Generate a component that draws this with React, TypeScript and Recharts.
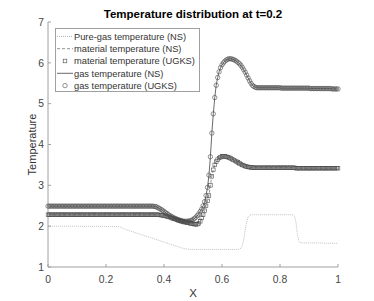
import { LineChart, Line, XAxis, YAxis, Legend } from "recharts";

// UGKS / NS solution on a uniform mesh over [0, 1], 201 points
const gasTemp = [
  2.49, 2.49, 2.49, 2.49, 2.49, 2.49, 2.49, 2.49, 2.49, 2.49,
  2.49, 2.49, 2.49, 2.49, 2.49, 2.49, 2.49, 2.49, 2.49, 2.49,
  2.49, 2.49, 2.49, 2.49, 2.49, 2.49, 2.49, 2.49, 2.49, 2.49,
  2.49, 2.49, 2.49, 2.49, 2.49, 2.49, 2.49, 2.49, 2.49, 2.49,
  2.49, 2.49, 2.49, 2.49, 2.49, 2.49, 2.49, 2.49, 2.49, 2.49,
  2.49, 2.49, 2.49, 2.49, 2.49, 2.49, 2.49, 2.49, 2.49, 2.49,
  2.49, 2.49, 2.49, 2.49, 2.49, 2.49, 2.49, 2.49, 2.49, 2.49,
  2.49, 2.49, 2.49, 2.485, 2.48, 2.47, 2.45, 2.43, 2.41, 2.385,
  2.36, 2.335, 2.31, 2.285, 2.26, 2.24, 2.22, 2.2, 2.185, 2.17,
  2.155, 2.145, 2.135, 2.125, 2.12, 2.12, 2.12, 2.125, 2.13, 2.145,
  2.16, 2.19, 2.22, 2.26, 2.3, 2.36, 2.42, 2.5, 2.6, 2.75,
  2.95, 3.25, 3.7, 4.28, 4.75, 5.15, 5.45, 5.64, 5.78, 5.88,
  5.95, 6.0, 6.04, 6.07, 6.09, 6.1, 6.1, 6.09, 6.08, 6.06,
  6.04, 6.01, 5.98, 5.94, 5.89, 5.83, 5.77, 5.7, 5.63, 5.56,
  5.5, 5.45, 5.42, 5.4, 5.39, 5.39, 5.39, 5.39, 5.39, 5.39,
  5.39, 5.39, 5.39, 5.39, 5.39, 5.39, 5.39, 5.39, 5.39, 5.39,
  5.39, 5.38, 5.38, 5.38, 5.38, 5.38, 5.38, 5.38, 5.38, 5.38,
  5.38, 5.38, 5.38, 5.38, 5.38, 5.38, 5.38, 5.38, 5.38, 5.38,
  5.38, 5.37, 5.37, 5.37, 5.37, 5.37, 5.37, 5.37, 5.37, 5.37,
  5.37, 5.37, 5.37, 5.37, 5.37, 5.37, 5.36, 5.36, 5.36, 5.36,
  5.36,
];

const materialTemp = [
  2.28, 2.28, 2.28, 2.28, 2.28, 2.28, 2.28, 2.28, 2.28, 2.28,
  2.28, 2.28, 2.28, 2.28, 2.28, 2.28, 2.28, 2.28, 2.28, 2.28,
  2.28, 2.28, 2.28, 2.28, 2.28, 2.28, 2.28, 2.28, 2.28, 2.28,
  2.28, 2.28, 2.28, 2.28, 2.28, 2.28, 2.28, 2.28, 2.28, 2.28,
  2.28, 2.28, 2.28, 2.28, 2.28, 2.28, 2.28, 2.28, 2.28, 2.28,
  2.28, 2.28, 2.28, 2.28, 2.28, 2.28, 2.28, 2.28, 2.28, 2.28,
  2.28, 2.28, 2.28, 2.28, 2.28, 2.28, 2.28, 2.28, 2.28, 2.28,
  2.28, 2.28, 2.28, 2.28, 2.28, 2.28, 2.28, 2.275, 2.27, 2.265,
  2.26, 2.25, 2.24, 2.23, 2.22, 2.205, 2.19, 2.18, 2.17, 2.155,
  2.14, 2.13, 2.12, 2.11, 2.1, 2.095, 2.09, 2.08, 2.07, 2.065,
  2.06, 2.05, 2.045, 2.05, 2.07, 2.12, 2.2, 2.28, 2.38, 2.5,
  2.62, 2.75, 3.0, 3.22, 3.38, 3.5, 3.58, 3.63, 3.67, 3.69,
  3.71, 3.71, 3.71, 3.7, 3.69, 3.68, 3.66, 3.64, 3.62, 3.6,
  3.58, 3.56, 3.54, 3.52, 3.5, 3.485, 3.47, 3.46, 3.45, 3.445,
  3.44, 3.435, 3.43, 3.43, 3.43, 3.43, 3.43, 3.43, 3.43, 3.43,
  3.43, 3.43, 3.43, 3.43, 3.43, 3.43, 3.43, 3.43, 3.43, 3.43,
  3.43, 3.43, 3.43, 3.43, 3.43, 3.43, 3.43, 3.43, 3.43, 3.43,
  3.43, 3.42, 3.42, 3.42, 3.42, 3.42, 3.42, 3.42, 3.42, 3.42,
  3.42, 3.42, 3.42, 3.42, 3.42, 3.42, 3.42, 3.42, 3.42, 3.42,
  3.42, 3.42, 3.42, 3.42, 3.42, 3.42, 3.42, 3.42, 3.42, 3.42,
  3.42,
];

const pureGasTemp = [
  2.0, 2.0, 2.0, 2.0, 2.0, 2.0, 2.0, 2.0, 2.0, 2.0,
  2.0, 2.0, 2.0, 2.0, 2.0, 2.0, 2.0, 2.0, 2.0, 2.0,
  2.0, 1.995, 1.995, 1.995, 1.995, 1.995, 1.995, 1.995, 1.995, 1.995,
  1.995, 1.995, 1.995, 1.995, 1.995, 1.995, 1.995, 1.995, 1.995, 1.995,
  1.995, 1.99, 1.99, 1.99, 1.99, 1.99, 1.99, 1.99, 1.99, 1.985,
  1.975, 1.96, 1.945, 1.93, 1.915, 1.9, 1.89, 1.88, 1.865, 1.855,
  1.845, 1.83, 1.82, 1.81, 1.795, 1.785, 1.775, 1.76, 1.75, 1.74,
  1.725, 1.715, 1.705, 1.69, 1.68, 1.67, 1.655, 1.645, 1.635, 1.62,
  1.61, 1.6, 1.585, 1.575, 1.565, 1.55, 1.54, 1.53, 1.515, 1.505,
  1.495, 1.48, 1.47, 1.46, 1.45, 1.445, 1.44, 1.435, 1.43, 1.43,
  1.43, 1.43, 1.43, 1.43, 1.43, 1.43, 1.43, 1.43, 1.43, 1.43,
  1.43, 1.43, 1.43, 1.43, 1.43, 1.43, 1.43, 1.43, 1.43, 1.43,
  1.43, 1.43, 1.43, 1.43, 1.43, 1.43, 1.43, 1.43, 1.43, 1.43,
  1.43, 1.43, 1.44, 1.46, 1.52, 1.68, 1.9, 2.1, 2.22, 2.26,
  2.28, 2.28, 2.28, 2.28, 2.28, 2.28, 2.28, 2.28, 2.28, 2.28,
  2.28, 2.28, 2.28, 2.28, 2.28, 2.28, 2.28, 2.28, 2.28, 2.28,
  2.28, 2.28, 2.28, 2.28, 2.28, 2.28, 2.28, 2.28, 2.28, 2.27,
  2.24, 2.1, 1.8, 1.63, 1.6, 1.59, 1.59, 1.59, 1.59, 1.59,
  1.59, 1.59, 1.59, 1.59, 1.59, 1.59, 1.59, 1.59, 1.59, 1.59,
  1.59, 1.58, 1.58, 1.58, 1.58, 1.58, 1.58, 1.58, 1.58, 1.58,
  1.58,
];

const xTicks = [0, 0.2, 0.4, 0.6, 0.8, 1];
const yTicks = [1, 2, 3, 4, 5, 6, 7];

const legendLabels = [
  "Pure-gas temperature (NS)",
  "material temperature (NS)",
  "material temperature (UGKS)",
  "gas temperature (NS)",
  "gas temperature (UGKS)",
];

// mesh points
const data = gasTemp.map((g, i) => ({
  x: i / (gasTemp.length - 1),
  gas: g,
  material: materialTemp[i],
  pure: pureGasTemp[i],
}));

const FONT = '"Liberation Sans", Arial, Helvetica, sans-serif';
const axisColor = "#a0a0a0";
const markColor = "#4a4a4a";

function XTick({ x, y, payload }: any) {
  return (
    <g>
      <line x1={x} x2={x} y1={y} y2={y - 3} stroke={axisColor} />
      <text x={x} y={y + 16} textAnchor="middle" fontSize={10.3} fill="#444" fontFamily={FONT}>
        {payload.value}
      </text>
    </g>
  );
}

function YTick({ x, y, payload }: any) {
  return (
    <g>
      <line x1={x} x2={x + 3} y1={y} y2={y} stroke={axisColor} />
      <text x={x - 4} y={y + 3.7} textAnchor="end" fontSize={10.3} fill="#444" fontFamily={FONT}>
        {payload.value}
      </text>
    </g>
  );
}

function CircleDot(props: any) {
  const { cx, cy, index } = props;
  return <circle key={`c-${index}`} cx={cx} cy={cy} r={2.2} fill="none" stroke={markColor} strokeWidth={0.6} />;
}

function SquareDot(props: any) {
  const { cx, cy, index } = props;
  return (
    <rect key={`s-${index}`} x={cx - 1.8} y={cy - 1.8} width={3.6} height={3.6} fill="none" stroke={markColor} strokeWidth={0.6} />
  );
}

function LegendBox() {
  const rows = [8.4, 20.7, 33, 45.3, 57.6];
  return (
    <svg width={145} height={64} style={{ display: "block" }}>
      <rect x={0.5} y={0.5} width={144} height={63} fill="#fff" stroke={axisColor} />
      <line x1={2} x2={18} y1={rows[0]} y2={rows[0]} stroke="#b0b0b0" strokeDasharray="1 1" />
      <line x1={2} x2={18} y1={rows[1]} y2={rows[1]} stroke="#777" strokeDasharray="3 2" strokeWidth={0.8} />
      <rect x={8.2} y={rows[2] - 1.8} width={3.6} height={3.6} fill="none" stroke={markColor} strokeWidth={0.6} />
      <line x1={2} x2={18} y1={rows[3]} y2={rows[3]} stroke="#444" strokeWidth={0.8} />
      <circle cx={10} cy={rows[4]} r={2.2} fill="none" stroke={markColor} strokeWidth={0.6} />
      {legendLabels.map((t, i) => (
        <text key={t} x={19} y={rows[i] + 3.4} fontSize={9.3} fill="#333" fontFamily={FONT}>
          {t}
        </text>
      ))}
    </svg>
  );
}

export default function App() {
  return (
    <div style={{ position: "absolute", left: 0, top: 0, width: 374, height: 301, background: "#fff" }}>
      <LineChart width={374} height={301} data={data} margin={{ top: 22, right: 36, bottom: 14, left: 28 }}>
        <XAxis
          dataKey="x"
          type="number"
          domain={[0, 1]}
          ticks={xTicks}
          tickSize={0}
          tickMargin={0}
          tickLine={false}
          tick={<XTick />}
          height={20}
          stroke={axisColor}
          label={{
            content: () => (
              <text x={193} y={297} textAnchor="middle" fontSize={11.5} fill="#333" fontFamily={FONT}>
                X
              </text>
            ),
          }}
        />
        <YAxis
          type="number"
          domain={[1, 7]}
          ticks={yTicks}
          tickSize={0}
          tickMargin={0}
          tickLine={false}
          tick={<YTick />}
          width={20}
          stroke={axisColor}
          label={{
            content: () => (
              <text
                x={31.5}
                y={144.5}
                transform="rotate(-90 31.5 144.5)"
                textAnchor="middle"
                dominantBaseline="central"
                fontSize={11}
                fill="#333"
                fontFamily={FONT}
              >
                Temperature
              </text>
            ),
          }}
        />
        <Legend
          layout="vertical"
          align="center"
          verticalAlign="middle"
          content={() => <LegendBox />}
          wrapperStyle={{ left: 55, top: 28, width: 145, height: 64 }}
        />
        <Line
          dataKey="pure"
          stroke="#b0b0b0"
          strokeWidth={0.8}
          strokeDasharray="1 1"
          dot={false}
          isAnimationActive={false}
        />
        <Line
          dataKey="material"
          stroke="#777"
          strokeWidth={0.8}
          strokeDasharray="3 2"
          dot={false}
          isAnimationActive={false}
        />
        <Line dataKey="material" stroke="none" dot={SquareDot} isAnimationActive={false} />
        <Line dataKey="gas" stroke="#444" strokeWidth={0.8} dot={false} isAnimationActive={false} />
        <Line dataKey="gas" stroke="none" dot={CircleDot} isAnimationActive={false} />
      </LineChart>
      <svg width={374} height={24} style={{ position: "absolute", left: 0, top: 0 }}>
        <text x={193} y={18} textAnchor="middle" fontSize={11.5} fontWeight="bold" fill="#000" fontFamily={FONT}>
          Temperature distribution at t=0.2
        </text>
      </svg>
    </div>
  );
}
